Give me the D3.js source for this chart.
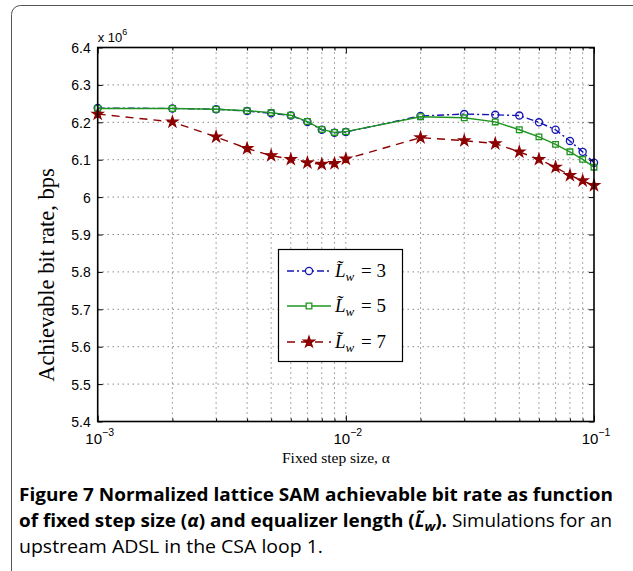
<!DOCTYPE html>
<html>
<head>
<meta charset="utf-8">
<script src="https://cdn.jsdelivr.net/npm/d3@7"></script>
<style>
  body { margin: 0; background: #fff; }
  svg text { fill: #000; }
</style>
</head>
<body>
<div id="main"></div>
<script>
!(function () {
  'use strict';
  // - - - - - - - - - -

  // data (bit rate in units of 10^6 bps)
  const stepSizes = [0.001, 0.002, 0.003, 0.004, 0.005, 0.006, 0.007, 0.008, 0.009, 0.01,
    0.02, 0.03, 0.04, 0.05, 0.06, 0.07, 0.08, 0.09, 0.1];
  const rateLw3 = [6.238, 6.237, 6.235, 6.230, 6.224, 6.218, 6.201, 6.180, 6.172, 6.174,
    6.217, 6.222, 6.220, 6.218, 6.200, 6.180, 6.150, 6.121, 6.092];
  const rateLw5 = [6.237, 6.237, 6.235, 6.231, 6.226, 6.219, 6.202, 6.181, 6.173, 6.175,
    6.215, 6.212, 6.201, 6.180, 6.161, 6.141, 6.121, 6.101, 6.080];
  const rateLw7 = [6.222, 6.201, 6.161, 6.130, 6.111, 6.101, 6.092, 6.088, 6.090, 6.102,
    6.159, 6.151, 6.143, 6.121, 6.101, 6.080, 6.058, 6.044, 6.031];
  const equalizerLengths = ['3', '5', '7'];
  const yTicks = [5.4, 5.5, 5.6, 5.7, 5.8, 5.9, 6, 6.1, 6.2, 6.3, 6.4];
  const xTicks = [1e-3, 1e-2, 1e-1];
  const xTickExponents = ['\u22123', '\u22122', '\u22121'];

  // configuration
  let
    svg = undefined,
    xScale = undefined,
    yScale = undefined;

  const canvas = {
    context: '#main',
    width: 633,
    height: 571,
    plot: { left: 97.7, right: 594, top: 47.5, bottom: 421.5 }
  };

  const styles = [
    { color: '#1414b4', dash: '7,3,2,3', marker: 'circle' },
    { color: '#1f951f', dash: null, marker: 'square' },
    { color: '#8c0000', dash: '8,6', marker: 'star' }
  ];

  const axisFont = '"Liberation Sans", Arial, sans-serif';
  const serifFont = '"Liberation Serif", "Times New Roman", serif';
  const captionFont = '"Open Sans", "Noto Sans", sans-serif';

  // methods
  function setCanvas() {
    svg = d3.select(canvas.context)
      .append('svg')
      .attr('width', canvas.width)
      .attr('height', canvas.height);

    // rounded figure frame
    svg.append('rect')
      .attr('x', 11.5).attr('y', 5.5)
      .attr('width', 640).attr('height', 575)
      .attr('rx', 9)
      .attr('fill', 'none')
      .attr('stroke', '#555')
      .attr('stroke-width', 1);
  }

  function setScales() {
    xScale = d3.scaleLog()
      .domain([xTicks[0], xTicks[xTicks.length - 1]])
      .range([canvas.plot.left, canvas.plot.right]);
    yScale = d3.scaleLinear()
      .domain([yTicks[0], yTicks[yTicks.length - 1]])
      .range([canvas.plot.bottom, canvas.plot.top]);
  }

  function drawGrid() {
    const p = canvas.plot;
    const minor = xScale.ticks().filter(function (t) { return t > xTicks[0] && t < xTicks[2]; });
    const g = svg.append('g').attr('class', 'grid')
      .attr('stroke', '#222')
      .attr('stroke-width', 0.8)
      .attr('stroke-dasharray', '1,4');

    g.selectAll('line.v').data(minor).enter().append('line')
      .attr('x1', function (d) { return xScale(d); })
      .attr('x2', function (d) { return xScale(d); })
      .attr('y1', p.top).attr('y2', p.bottom);

    g.selectAll('line.h').data(yTicks.slice(1, -1)).enter().append('line')
      .attr('y1', function (d) { return yScale(d); })
      .attr('y2', function (d) { return yScale(d); })
      .attr('x1', p.left).attr('x2', p.right);
  }

  function drawAxes() {
    const p = canvas.plot;
    const minor = xScale.ticks().filter(function (t) { return xTicks.indexOf(t) < 0; });

    // bottom / top ticks (inward)
    svg.append('g')
      .attr('transform', 'translate(0,' + p.bottom + ')')
      .call(d3.axisBottom(xScale).tickValues(xTicks).tickSize(-6).tickFormat(''))
      .call(function (g) { g.select('.domain').remove(); });
    svg.append('g')
      .attr('transform', 'translate(0,' + p.bottom + ')')
      .call(d3.axisBottom(xScale).tickValues(minor).tickSize(-3).tickFormat(''))
      .call(function (g) { g.select('.domain').remove(); });
    svg.append('g')
      .attr('transform', 'translate(0,' + p.top + ')')
      .call(d3.axisTop(xScale).tickValues(xTicks).tickSize(-6).tickFormat(''))
      .call(function (g) { g.select('.domain').remove(); });
    svg.append('g')
      .attr('transform', 'translate(0,' + p.top + ')')
      .call(d3.axisTop(xScale).tickValues(minor).tickSize(-3).tickFormat(''))
      .call(function (g) { g.select('.domain').remove(); });

    // left / right ticks
    svg.append('g')
      .attr('transform', 'translate(' + p.left + ',0)')
      .call(d3.axisLeft(yScale).tickValues(yTicks).tickSize(-5).tickPadding(7)
        .tickFormat(function (d) { return d3.format('')(+d.toFixed(1)); }))
      .call(function (g) {
        g.select('.domain').remove();
        g.selectAll('text')
          .attr('font-family', axisFont)
          .attr('font-size', 14)
          .attr('dy', '0.36em');
      });
    svg.append('g')
      .attr('transform', 'translate(' + p.right + ',0)')
      .call(d3.axisRight(yScale).tickValues(yTicks).tickSize(-5).tickFormat(''))
      .call(function (g) { g.select('.domain').remove(); });

    svg.selectAll('.tick line').attr('stroke', '#000').attr('stroke-width', 1);

    // box
    svg.append('rect')
      .attr('x', p.left).attr('y', p.top)
      .attr('width', p.right - p.left).attr('height', p.bottom - p.top)
      .attr('fill', 'none')
      .attr('stroke', '#000')
      .attr('stroke-width', 1.6);

    // x tick labels 10^n
    const lab = svg.append('g').attr('class', 'xlabels')
      .selectAll('text').data(xTicks).enter().append('text')
      .attr('x', function (d) { return xScale(d) + 2; })
      .attr('y', 444)
      .attr('text-anchor', 'middle')
      .attr('font-family', axisFont)
      .attr('font-size', 15);
    lab.append('tspan').text('10');
    lab.append('tspan')
      .attr('dy', -8)
      .attr('font-size', 10.5)
      .text(function (d, i) { return xTickExponents[i]; });

    // exponent label
    const ex = svg.append('text')
      .attr('x', p.left).attr('y', 42)
      .attr('font-family', axisFont)
      .attr('font-size', 13);
    ex.append('tspan').text('x 10');
    ex.append('tspan').attr('dy', -7).attr('font-size', 9).text('6');

    // axis titles
    svg.append('text')
      .attr('transform', 'translate(54,275) rotate(-90)')
      .attr('text-anchor', 'middle')
      .attr('font-family', serifFont)
      .attr('font-size', 22.5)
      .text('Achievable bit rate, bps');

    svg.append('text')
      .attr('x', 336).attr('y', 463)
      .attr('text-anchor', 'middle')
      .attr('font-family', serifFont)
      .attr('font-size', 15.5)
      .text('Fixed step size, \u03b1');
  }

  function markerPath(type) {
    if (type === 'square') return d3.symbol(d3.symbolSquare, 32)();
    if (type === 'star') return d3.symbol(d3.symbolStar, 36)();
    return d3.symbol(d3.symbolCircle, 40)();
  }

  function drawSeries() {
    const all = [rateLw3, rateLw5, rateLw7];
    const line = d3.line()
      .x(function (d) { return xScale(d[0]); })
      .y(function (d) { return yScale(d[1]); });

    all.forEach(function (values, i) {
      const s = styles[i];
      const pts = stepSizes.map(function (x, j) { return [x, values[j]]; });
      const g = svg.append('g').attr('class', 'series');

      g.append('path')
        .datum(pts)
        .attr('d', line)
        .attr('fill', 'none')
        .attr('stroke', s.color)
        .attr('stroke-width', 1.4)
        .attr('stroke-dasharray', s.dash);

      g.selectAll('path.m').data(pts).enter().append('path')
        .attr('class', 'm')
        .attr('transform', function (d) { return 'translate(' + xScale(d[0]) + ',' + yScale(d[1]) + ')'; })
        .attr('d', markerPath(s.marker))
        .attr('fill', s.marker === 'star' ? s.color : 'none')
        .attr('stroke', s.color)
        .attr('stroke-width', 1.3);
    });
  }

  function drawLegend() {
    const box = { x: 278.5, y: 249.5, w: 124, h: 112 };
    const rows = [271, 306, 342];
    const lg = svg.append('g').attr('class', 'legend');

    lg.append('rect')
      .attr('x', box.x).attr('y', box.y)
      .attr('width', box.w).attr('height', box.h)
      .attr('fill', '#fff')
      .attr('stroke', '#000')
      .attr('stroke-width', 1.2);

    equalizerLengths.forEach(function (len, i) {
      const s = styles[i];
      const y = rows[i];
      lg.append('line')
        .attr('x1', 287).attr('x2', 331)
        .attr('y1', y).attr('y2', y)
        .attr('stroke', s.color)
        .attr('stroke-width', 1.4)
        .attr('stroke-dasharray', s.dash);
      lg.append('path')
        .attr('transform', 'translate(309,' + y + ')')
        .attr('d', markerPath(s.marker))
        .attr('fill', s.marker === 'star' ? s.color : '#fff')
        .attr('stroke', s.color)
        .attr('stroke-width', 1.3);

      const t = lg.append('text')
        .attr('x', 335).attr('y', y + 6)
        .attr('font-family', serifFont)
        .attr('font-size', 19);
      t.append('tspan').attr('font-style', 'italic').text('L\u0303');
      t.append('tspan').attr('font-style', 'italic').attr('font-size', 13).attr('dy', 4).text('w');
      t.append('tspan').attr('dy', -4).attr('dx', 2).text(' = ' + len);
    });
  }

  function drawCaption() {
    const c = svg.append('g').attr('class', 'caption')
      .attr('font-family', captionFont)
      .attr('font-size', 18);

    c.append('text')
      .attr('x', 19).attr('y', 501)
      .attr('font-weight', 'bold')
      .attr('textLength', 594).attr('lengthAdjust', 'spacingAndGlyphs')
      .text('Figure 7 Normalized lattice SAM achievable bit rate as function');

    const l2 = c.append('text')
      .attr('x', 19).attr('y', 527)
      .attr('textLength', 593).attr('lengthAdjust', 'spacingAndGlyphs');
    l2.append('tspan').attr('font-weight', 'bold').text('of fixed step size (');
    l2.append('tspan').attr('font-weight', 'bold').attr('font-style', 'italic').text('\u03b1');
    l2.append('tspan').attr('font-weight', 'bold').text(') and equalizer length (');
    l2.append('tspan').attr('font-weight', 'bold').attr('font-style', 'italic').text('L\u0303');
    l2.append('tspan').attr('font-weight', 'bold').attr('font-style', 'italic')
      .attr('font-size', 13).attr('dy', 4).text('w');
    l2.append('tspan').attr('font-weight', 'bold').attr('dy', -4).text(').');
    l2.append('tspan').text(' Simulations for an');

    c.append('text')
      .attr('x', 19).attr('y', 553)
      .attr('textLength', 304).attr('lengthAdjust', 'spacingAndGlyphs')
      .text('upstream ADSL in the CSA loop 1.');
  }

  // control
  setCanvas();
  setScales();
  drawGrid();
  drawSeries();
  drawAxes();
  drawLegend();
  drawCaption();
  // - - - - - - - - - -
}());
</script>
</body>
</html>
